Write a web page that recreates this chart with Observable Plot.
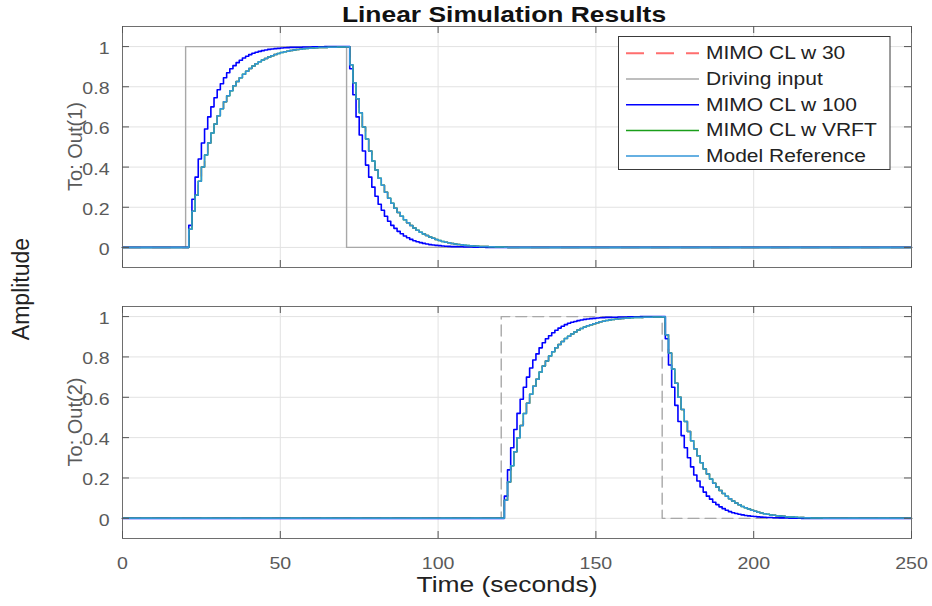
<!DOCTYPE html>
<html><head><meta charset="utf-8">
<script src="https://cdn.jsdelivr.net/npm/d3@7"></script>
<script src="https://cdn.jsdelivr.net/npm/@observablehq/plot@0.6"></script>
<style>
html,body{margin:0;padding:0;background:#fff;}
#fig{position:relative;width:932px;height:606px;overflow:hidden;background:#fff;}
#fig svg{position:absolute;left:0;}
</style></head><body><div id="fig"></div>
<script>
// ---------------- data ----------------
const tEnd = 250;
const xTicks = [0, 50, 100, 150, 200, 250];
const yTicks = [0, 0.2, 0.4, 0.6, 0.8, 1];
const seriesNames = ["MIMO CL w 30", "Driving input", "MIMO CL w 100", "MIMO CL w VRFT", "Model Reference"];
const seriesColors = ["#ff6e6e", "#a8a8a8", "#0000ff", "#1a9e1a", "#3396d8"];
const panelLabels = ["To: Out(1)", "To: Out(2)"];
// driving inputs (seconds at which the step switches on / off)
const input1 = {on: 20, off: 71};
const input2 = {on: 120, off: 171};
// sampled responses (1 s sample), starting one sample after the input edge
const riseFast = [0.11,0.24,0.35,0.44,0.52,0.59,0.65,0.70,0.745,0.785,0.815,0.845,0.87,0.89,0.905,0.92,0.932,0.943,0.952,0.96,
  0.967,0.972,0.976,0.98,0.983,0.986,0.988,0.99,0.991,0.993,0.994,0.995,0.996,0.996,0.997,0.997,0.998,0.998,0.998,0.999,
  0.999,0.999,0.999,1,1,1,1,1,1,1,1];
const riseSlow = [0.09,0.18,0.26,0.33,0.40,0.46,0.52,0.57,0.615,0.655,0.69,0.725,0.755,0.78,0.805,0.826,0.845,0.862,0.877,0.891,
  0.903,0.914,0.924,0.933,0.941,0.948,0.954,0.96,0.965,0.97,0.974,0.977,0.98,0.983,0.985,0.987,0.989,0.99,0.992,0.993,
  0.994,0.995,0.995,0.996,0.997,0.997,0.997,0.998,0.998,0.998,0.999];
const fallFast = [0.89,0.76,0.65,0.56,0.48,0.41,0.35,0.30,0.255,0.215,0.185,0.155,0.13,0.11,0.095,0.08,0.068,0.057,0.048,0.04,
  0.033,0.028,0.024,0.02,0.017,0.014,0.012,0.01,0.009,0.007,0.006,0.005,0.004,0.004,0.003,0.003,0.002,0.002,0.002,0.001,
  0.001,0.001,0.001,0,0,0,0,0,0,0];
const fallSlow = [0.91,0.82,0.74,0.67,0.60,0.54,0.48,0.43,0.385,0.345,0.31,0.275,0.245,0.22,0.195,0.174,0.155,0.138,0.123,0.109,
  0.097,0.086,0.076,0.067,0.059,0.052,0.046,0.04,0.035,0.03,0.026,0.023,0.02,0.017,0.015,0.013,0.011,0.01,0.008,0.007,
  0.006,0.005,0.004,0.004,0.003,0.003,0.002,0.002,0.002,0.001];

// ---------------- helpers ----------------
function responseSeries(input, rise, fall) {
  const pts = [];
  for (let t = 0; t <= tEnd; t++) {
    let v = 0;
    const kOn = t - input.on - 1, kOff = t - input.off - 1;
    if (kOff >= 0) v = kOff < fall.length ? fall[kOff] : 0;
    else if (kOn >= 0) v = rise[kOn];
    pts.push({t, v});
  }
  return pts;
}
function inputSeries(input) {
  return [{t: 0, v: 0}, {t: input.on, v: 1}, {t: input.off, v: 0}, {t: tEnd, v: 0}];
}
const FONT = "'Liberation Sans', Arial, Helvetica, sans-serif";
const W = 932, ML = 122, MR = 21;
const plotW = W - ML - MR;

function panel(input, yDomain, height, marginTop, marginBottom, showX, dashedInput) {
  const plotH = height - marginTop - marginBottom;
  const slow = responseSeries(input, riseSlow, fallSlow);
  const fast = responseSeries(input, riseFast, fallFast);
  const inp = inputSeries(input);
  const L = (data, i, extra = {}) => Plot.line(data, {x: "t", y: "v", curve: "step-after", stroke: seriesColors[i], strokeWidth: 1.5, ...extra});
  return Plot.plot({
    width: W, height, marginLeft: ML, marginRight: MR, marginTop, marginBottom,
    x: {domain: [0, tEnd], axis: null},
    y: {domain: yDomain, axis: null},
    style: {fontFamily: FONT, fontSize: "17px", color: "#5a5a5a", background: "transparent", overflow: "visible"},
    marks: [
      Plot.gridX(xTicks, {stroke: "#e2e2e2", strokeOpacity: 1}),
      Plot.gridY(yTicks, {stroke: "#e2e2e2", strokeOpacity: 1}),
      L(slow, 0, {strokeDasharray: "18,12"}),
      L(inp, 1, {strokeWidth: 1.4, strokeDasharray: dashedInput ? "11,6" : null}),
      L(fast, 2, {strokeWidth: 1.6}),
      L(slow, 3),
      L(slow, 4),
      Plot.frame({stroke: "#6e6e6e"}),
      Plot.tickY(yTicks, {y: d => d, stroke: "#555", insetRight: plotW - 7}),
      Plot.tickY(yTicks, {y: d => d, stroke: "#555", insetLeft: plotW - 7}),
      Plot.tickX(xTicks, {x: d => d, stroke: "#555", insetBottom: plotH - 7}),
      Plot.tickX(xTicks, {x: d => d, stroke: "#555", insetTop: plotH - 7}),
      Plot.axisY(yTicks, {tickSize: 0, tickPadding: 13, label: null, tickFormat: d => String(d), dy: 2, fill: "#5a5a5a"}),
      showX ? Plot.axisX(xTicks, {tickSize: 0, tickPadding: 18, label: null, tickFormat: d => String(d), fill: "#5a5a5a"}) : null
    ]
  });
}

const fig = document.getElementById("fig");
const topPanel = panel(input1, [-0.1, 1.1], 290, 26, 23, false, false);
topPanel.style.top = "0px";
fig.appendChild(topPanel);
const botPanel = panel(input2, [-0.1, 1.05], 316, 16, 68, true, true);
botPanel.style.top = "290px";
fig.appendChild(botPanel);

// ---------------- overlay: titles + legend ----------------
const ov = d3.select(fig).append("svg").attr("width", W).attr("height", 606)
  .style("top", "0px").style("font-family", FONT).style("pointer-events", "none");
ov.append("text").attr("class", "stretch").attr("x", 504).attr("y", 22).attr("text-anchor", "middle")
  .attr("font-size", 22).attr("font-weight", "bold").attr("fill", "#111").text("Linear Simulation Results");
ov.append("text").attr("class", "stretch").attr("x", 507).attr("y", 592).attr("text-anchor", "middle")
  .attr("font-size", 22).attr("fill", "#222").text("Time (seconds)");
ov.append("text").attr("transform", "translate(21,289) rotate(-90)").attr("text-anchor", "middle")
  .attr("dominant-baseline", "central").attr("font-size", 23).attr("fill", "#222").text("Amplitude");
[[146.5, panelLabels[0]], [422, panelLabels[1]]].forEach(([cy, s]) => {
  ov.append("text").attr("transform", `translate(75,${cy}) rotate(-90)`).attr("text-anchor", "middle")
    .attr("dominant-baseline", "central").attr("font-size", 20).attr("fill", "#5a5a5a").text(s);
});
// legend
const lg = ov.append("g");
lg.append("rect").attr("x", 618.5).attr("y", 36.5).attr("width", 271.5).attr("height", 133)
  .attr("fill", "#fff").attr("stroke", "#3a3a3a").attr("stroke-width", 1);
seriesNames.forEach((name, i) => {
  const cy = 53.3 + i * 25.7;
  lg.append("line").attr("x1", 626).attr("x2", 699).attr("y1", cy).attr("y2", cy)
    .attr("stroke", seriesColors[i]).attr("stroke-width", i === 0 ? 2 : 1.5)
    .attr("stroke-dasharray", i === 0 ? "18,12" : null);
  lg.append("text").attr("class", "stretch").attr("x", 706).attr("y", cy).attr("dominant-baseline", "central")
    .attr("font-size", 17.5).attr("fill", "#222").text(name);
});

// horizontal stretch of upright text to match the reference aspect
function stretch(sel, k) {
  sel.each(function() {
    const len = this.getComputedTextLength();
    if (len > 0) { this.setAttribute("textLength", len * k); this.setAttribute("lengthAdjust", "spacingAndGlyphs"); }
  });
}
stretch(ov.selectAll("text.stretch"), 1.2);
stretch(d3.selectAll([topPanel, botPanel]).selectAll("g[aria-label$='tick label'] text"), 1.15);
</script></body></html>
